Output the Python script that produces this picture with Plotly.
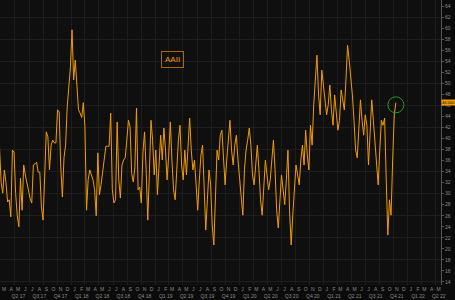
import pandas as pd
import plotly.graph_objects as go

# ---- data (weekly AAII bullish readings) ----
start_date = "2017-02-23"
aaii = [
    38.3, 32.0, 30.1, 34.3, 32.0, 28.5, 28.9, 25.8, 37.9, 37.5,
    30.0, 26.0, 24.0, 32.8, 27.0, 35.2, 33.4, 32.0, 30.3, 29.1,
    28.3, 35.2, 35.4, 35.7, 33.9, 33.9, 27.6, 25.2, 33.0, 41.2,
    40.3, 34.3, 38.8, 39.7, 39.2, 39.2, 45.2, 44.8, 34.8, 29.4,
    36.5, 38.8, 45.7, 49.7, 53.0, 59.7, 50.6, 54.2, 48.8, 45.2,
    44.6, 43.8, 46.5, 42.1, 27.0, 32.5, 34.3, 33.4, 32.5, 30.7,
    26.0, 37.4, 29.8, 31.6, 34.3, 37.0, 38.6, 38.6, 38.6, 44.6,
    30.7, 28.3, 28.9, 43.0, 32.5, 29.2, 35.2, 36.1, 36.5, 39.7,
    43.3, 42.1, 33.7, 32.1, 34.8, 45.5, 30.7, 31.2, 28.3, 37.4,
    41.2, 34.3, 25.2, 33.7, 43.3, 39.7, 33.4, 37.9, 29.8, 35.2,
    40.6, 36.1, 41.9, 37.9, 32.5, 37.0, 43.0, 36.1, 30.7, 28.9,
    35.2, 39.7, 42.4, 35.2, 32.5, 37.9, 33.4, 39.7, 43.7, 37.9,
    34.3, 36.1, 30.7, 27.0, 32.5, 37.0, 38.8, 32.5, 23.4, 28.9,
    34.3, 31.6, 24.3, 20.7, 30.7, 37.9, 36.1, 40.6, 41.5, 35.2,
    31.6, 36.1, 39.7, 43.3, 37.9, 35.2, 38.8, 40.6, 36.1, 32.5,
    28.9, 26.1, 34.3, 37.9, 39.7, 41.9, 38.8, 33.4, 31.6, 36.1,
    38.8, 34.3, 28.9, 26.1, 32.5, 36.1, 33.4, 30.7, 32.5, 37.0,
    39.7, 34.3, 27.0, 23.8, 29.8, 33.4, 30.7, 28.0, 32.5, 37.9,
    27.0, 20.7, 26.1, 29.8, 35.2, 33.4, 31.6, 36.1, 38.8, 35.2,
    41.5, 37.0, 34.3, 42.4, 38.8, 46.1, 50.6, 55.1, 47.9, 44.3,
    52.4, 49.7, 47.0, 44.3, 46.1, 49.7, 45.2, 42.4, 47.9, 45.2,
    41.5, 43.3, 48.8, 47.0, 45.2, 50.6, 56.9, 54.2, 51.5, 47.9,
    43.3, 37.9, 36.5, 43.3, 47.0, 43.3, 40.6, 44.3, 42.4, 35.2,
    41.5, 47.0, 43.3, 38.8, 34.3, 31.6, 37.9, 43.3, 42.4, 43.7,
    32.5, 22.5, 28.9, 26.1, 36.1, 44.3, 46.5,
]
x_range = ["2017-02-25", "2022-05-26"]
month_letters = ["J", "F", "M", "A", "M", "J", "J", "A", "S", "O", "N", "D"]
y_ticks = list(range(14, 65, 2))
y_grid = list(range(14, 63, 4))
series_name = "AAII"

dates = pd.date_range(start_date, periods=len(aaii), freq="7D")

# month letter ticks (mid month)
months = pd.date_range("2017-02-01", "2022-05-01", freq="MS")
month_vals = [m + pd.Timedelta(days=14) for m in months]
month_text = [month_letters[m.month - 1] for m in months]

# quarter labels (centre of quarter)
quarters = pd.date_range("2017-01-01", "2022-04-01", freq="QS")
q_vals = [q + pd.Timedelta(days=45) for q in quarters]
q_text = [f"Q{(q.month - 1) // 3 + 1} {q.year % 100:02d}" for q in quarters]

ORANGE = "#f29c00"
GRAY = "#8c8c8c"
GRID = "#1d1d1d"

fig = go.Figure()
fig.add_trace(go.Scatter(x=dates, y=aaii, mode="lines",
                         line=dict(color=ORANGE, width=1),
                         hoverinfo="skip", showlegend=False))
fig.add_trace(go.Scatter(x=dates, y=aaii, mode="lines", xaxis="x2",
                         line=dict(color="rgba(0,0,0,0)", width=0),
                         hoverinfo="skip", showlegend=False))

fig.update_layout(
    width=455, height=300,
    margin=dict(l=0, r=14, t=0, b=15),
    paper_bgcolor="#0b0b0b", plot_bgcolor="#0f0f0f",
    font=dict(family="Liberation Sans, Arial, sans-serif", color=GRAY, size=5),
    xaxis=dict(
        type="date", range=x_range,
        tickmode="array", tickvals=month_vals, ticktext=month_text,
        tickfont=dict(size=5, color=GRAY), ticks="", ticklabelstandoff=0,
        showgrid=False, zeroline=False, showline=False,
        minor=dict(tick0="2018-01-01", dtick="M2", showgrid=True,
                   gridcolor=GRID, gridwidth=1, ticks=""),
    ),
    xaxis2=dict(
        type="date", range=x_range, overlaying="x", matches="x", anchor="y",
        side="bottom",
        tickmode="array", tickvals=q_vals, ticktext=q_text,
        tickfont=dict(size=5, color=GRAY), ticks="", ticklabelstandoff=7,
        showgrid=False, zeroline=False, showline=False,
    ),
    yaxis=dict(
        side="right", range=[13.45, 65.1],
        tickmode="array", tickvals=y_ticks,
        tickfont=dict(size=5, color=GRAY),
        ticks="outside", ticklen=2, tickcolor="#555555",
        showline=True, linecolor="#555555", linewidth=1,
        showgrid=False, zeroline=False,
        minor=dict(tickvals=y_grid, showgrid=True, gridcolor=GRID,
                   gridwidth=1, ticks=""),
    ),
)

last_x = dates[-1]
last_y = aaii[-1]

# green circle around the latest reading
fig.add_shape(type="circle", xref="x", yref="y",
              xsizemode="pixel", ysizemode="pixel",
              xanchor=last_x, yanchor=last_y - 0.4,
              x0=-8, x1=8, y0=-8, y1=8,
              line=dict(color="#1f9a2a", width=1))

# last value tag on the right axis
fig.add_annotation(xref="paper", x=1.0, xanchor="left", yref="y", y=last_y,
                   text=f"{last_y:.3f}", showarrow=False,
                   bgcolor=ORANGE, font=dict(size=4, color="#000000"),
                   borderpad=0, xshift=0)

# legend box
fig.add_annotation(xref="paper", yref="paper", x=172 / 441, y=1 - 51 / 285,
                   text=series_name, showarrow=False,
                   font=dict(size=8, color=ORANGE),
                   bordercolor="#a86a00", borderwidth=1, borderpad=3,
                   bgcolor="rgba(0,0,0,0)")

fig.write_html("out.html")
